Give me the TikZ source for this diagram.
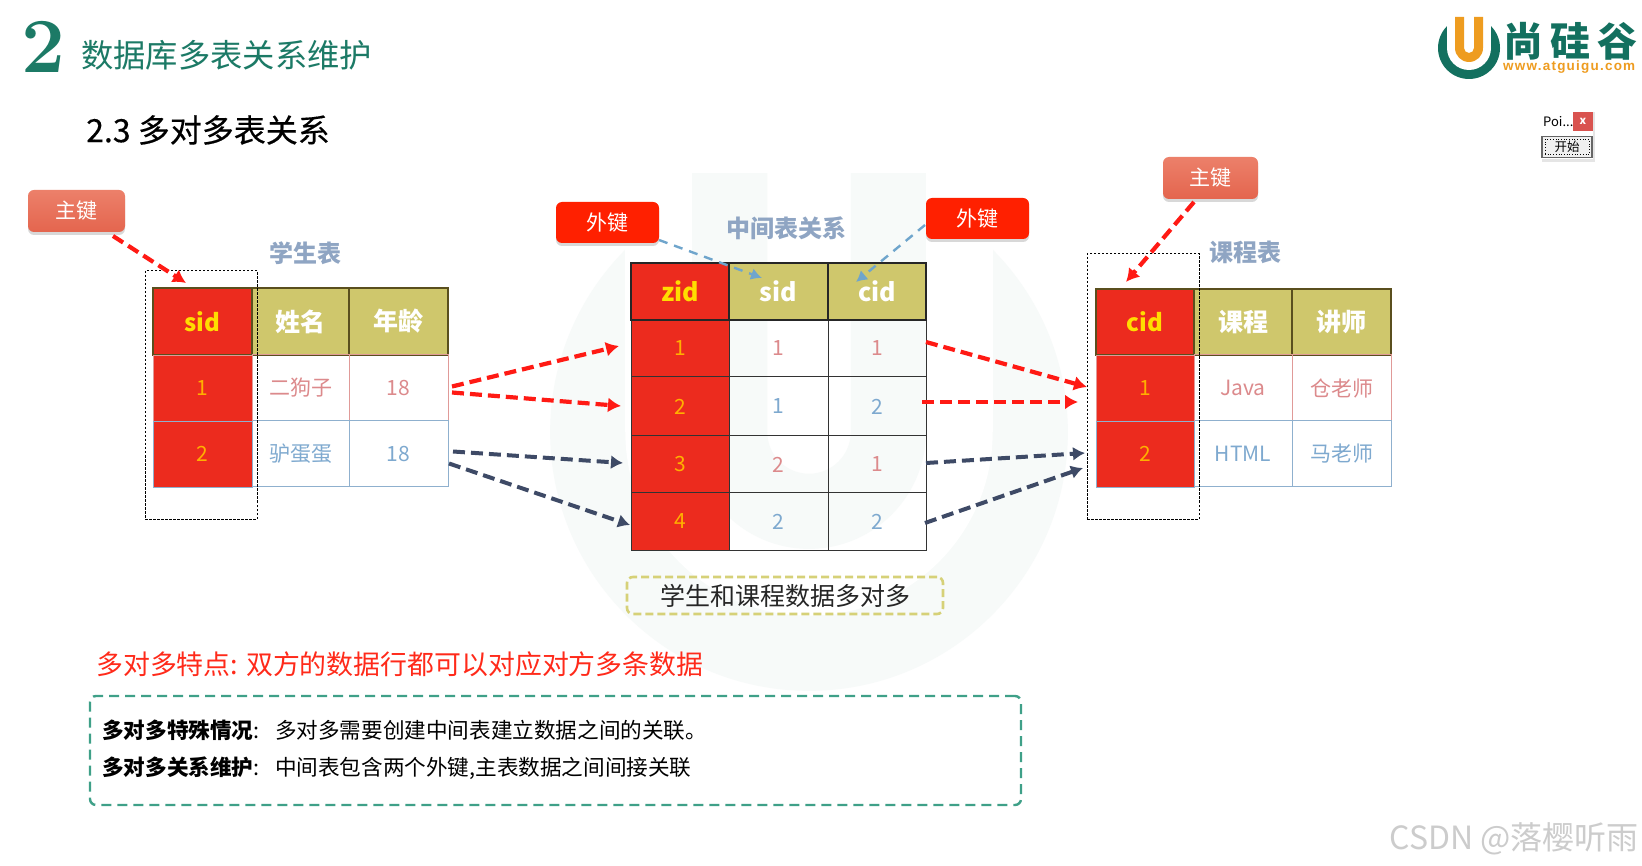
\documentclass[tikz,border=0pt]{standalone}
\usepackage{fontspec}
\usetikzlibrary{arrows.meta,shadows,shapes.misc}
\newfontfamily\cjk{Noto Sans CJK SC}
\newfontfamily\cjkm[FakeBold=0.35]{Noto Sans CJK SC}
\newfontfamily\logourlf[LetterSpace=9]{Liberation Sans}
\newcommand{\fsz}[1]{\fontsize{#1}{#1}\selectfont}
\definecolor{teal1}{HTML}{1C7A66}
\definecolor{logogreen}{HTML}{13705F}
\definecolor{logoorange}{HTML}{EE9C20}
\definecolor{wmA}{HTML}{F7FAF9}
\definecolor{hdr}{HTML}{CFC76C}
\definecolor{cellred}{HTML}{EC2B1E}
\definecolor{hline}{HTML}{5A4F1E}
\definecolor{numy}{HTML}{FFB000}
\definecolor{keyy}{HTML}{FFDD00}
\definecolor{dred}{HTML}{DC8A8C}
\definecolor{dblue}{HTML}{7EA9CF}
\definecolor{lred}{HTML}{E09A98}
\definecolor{lblue}{HTML}{8FB0CE}
\definecolor{tlabel}{HTML}{8FA5C3}
\definecolor{arred}{HTML}{FF1A14}
\definecolor{ardark}{HTML}{3E4A66}
\definecolor{arblue}{HTML}{6FA5CC}
\definecolor{pktop}{HTML}{EC806A}
\definecolor{pkbot}{HTML}{E4654E}
\definecolor{fkcol}{HTML}{FF2000}
\definecolor{closecol}{HTML}{D9534F}
\definecolor{notecol}{HTML}{D6D178}
\definecolor{featcol}{HTML}{FF2A1A}
\definecolor{infocol}{HTML}{3FA088}
\newcommand{\logoshape}[2]{%
  \fill[#1] (0,0) circle[radius=31];
  \fill[white] (-22,-40) rectangle (22,0);
  \fill[white] (0,0) circle[radius=22];
  \fill[#2] (-14,-31) -- (-14,0) arc[start angle=180,end angle=0,radius=14] -- (14,-31) -- (5,-31) -- (5,0) arc[start angle=0,end angle=180,radius=5] -- (-5,-31) -- cycle;
}
% cell: name, x0, y0, x1, y1, style, text
\newcommand{\tcell}[7]{%
  \node[cellbase,#6,minimum width={(#4-#2)*1pt},minimum height={(#5-#3)*1pt}] (#1) at ({(#2+#4)/2},{(#3+#5)/2}) {#7};
}
\tikzset{
  x=1pt,y=-1pt,
  cellbase/.style={rectangle,inner sep=0pt,outer sep=0pt,anchor=center,font=\cjk\fsz{21}},
  keyhead/.style={fill=cellred,draw=hline,line width=1.6pt,text=keyy,font=\cjk\bfseries\fsz{24}},
  colhead/.style={fill=hdr,draw=hline,line width=1.6pt,text=white,font=\cjk\bfseries\fsz{25}},
  keycellR/.style={fill=cellred,draw=lred,line width=.8pt,text=numy},
  keycellB/.style={fill=cellred,draw=lblue,line width=.8pt,text=numy},
  rowR/.style={draw=lred,line width=1pt,text=dred},
  rowB/.style={draw=lblue,line width=1pt,text=dblue},
  mhead/.style={line width=2.4pt,draw=black!85,font=\cjk\bfseries\fsz{25}},
  mkey/.style={fill=cellred,draw=black!80,line width=1pt,text=numy},
  mred/.style={draw=black!80,line width=1pt,text=dred},
  mblue/.style={draw=black!80,line width=1pt,text=dblue},
  pkbtn/.style={rectangle,rounded corners=6pt,inner sep=0pt,top color=pktop,bottom color=pkbot,drop shadow={shadow xshift=0pt,shadow yshift=-3pt,opacity=.3},text=white,font=\cjk\fsz{21}},
  fkbtn/.style={rectangle,rounded corners=6pt,inner sep=0pt,fill=fkcol,drop shadow={shadow xshift=0pt,shadow yshift=-3pt,opacity=.3},text=white,font=\cjk\fsz{21}},
  tlabelnode/.style={text=tlabel,font=\cjk\bfseries\fsz{24},inner sep=0pt},
  blackdash/.style={draw=black,line width=1pt,dash pattern=on 2.5pt off 1.5pt,inner sep=0pt,rectangle},
  redarrow/.style={draw=arred,line width=4.2pt,dash pattern=on 12pt off 6pt,-{Latex[length=13pt,width=15pt]}},
  darkarrow/.style={draw=ardark,line width=4pt,dash pattern=on 12pt off 6pt,-{Latex[length=12pt,width=14pt]}},
  bluearrow/.style={draw=arblue,line width=2.4pt,dash pattern=on 9pt off 7pt,-{Latex[length=11pt,width=12pt]}},
}
\begin{document}
\begin{tikzpicture}
\useasboundingbox (0,0) rectangle (1642,866);
\fill[white] (0,0) rectangle (1642,866);
% watermark
\begin{scope}[shift={(809,432)},scale=8.35]
\logoshape{wmA}{wmA}
\end{scope}
% headings
\node[inner sep=0pt,text=teal1,anchor=center,font=\bfseries\fsz{78}] (num) at (43,47) {2};
\node[inner sep=0pt,anchor=west,text=teal1,font=\cjk\fsz{32.3}] (title) at (81,55) {数据库多表关系维护};
\node[inner sep=0pt,anchor=west,text=black,font=\cjkm\fsz{32}] (sub) at (86,130) {2.3 多对多表关系};
% logo
\begin{scope}[shift={(1469,48)}]
\logoshape{logogreen}{logoorange}
\end{scope}
\node[inner sep=0pt,anchor=west,text=logogreen,font=\cjk\bfseries\fsz{40}] (logotext) at (1503,41) {尚\hspace{7pt}硅\hspace{7pt}谷};
\node[inner sep=0pt,anchor=west,text=logoorange,font=\logourlf\bfseries\fsz{13.5}] (logourl) at (1503,67.5) {www.atguigu.com};
% Poi window
\node[rectangle,fill=white,minimum width=53pt,minimum height=50pt,inner sep=0pt,drop shadow={shadow xshift=2pt,shadow yshift=-3pt,opacity=.2}] (poi) at (1566.5,134) {};
\node[inner sep=0pt,anchor=west,font=\cjk\fsz{13},text=black] (poitxt) at (1543,122) {Poi...};
\node[fill=closecol,minimum width=20pt,minimum height=19pt,inner sep=0pt,text=white,font=\cjk\bfseries\fsz{11}] (poix) at (1583,121.5) {x};
\node[draw=black!60,line width=1.5pt,fill=black!6,minimum width=50pt,minimum height=21pt,inner sep=0pt,font=\cjk\fsz{12.5}] (poibtn) at (1567,147) {开始};
\node[draw=black,line width=.7pt,dotted,minimum width=44pt,minimum height=15pt,inner sep=0pt] (poifocus) at (1567,147) {};
% left table
\tcell{s00}{153}{288}{252}{355}{keyhead}{sid}
\tcell{s01}{252}{288}{349}{355}{colhead}{姓名}
\tcell{s02}{349}{288}{448}{355}{colhead}{年龄}
\tcell{s11}{252}{355}{349}{421}{rowR}{二狗子}
\tcell{s12}{349}{355}{448}{421}{rowR}{18}
\tcell{s21}{252}{421}{349}{487}{rowB}{驴蛋蛋}
\tcell{s22}{349}{421}{448}{487}{rowB}{18}
\tcell{s10}{153}{355}{252}{421}{keycellR}{1}
\tcell{s20}{153}{421}{252}{487}{keycellB}{2}
\node[blackdash,minimum width=112pt,minimum height=248pt] (sbox) at (201,395) {};
\node[tlabelnode] (stitle) at (305.5,253) {学生表};
% middle table
\tcell{m10}{631}{320}{729}{377}{mkey}{1}
\tcell{m11}{729}{320}{828}{377}{mred}{1}
\tcell{m12}{828}{320}{926}{377}{mred}{1}
\tcell{m20}{631}{377}{729}{436}{mkey}{2}
\tcell{m21}{729}{377}{828}{436}{mblue}{1}
\tcell{m22}{828}{377}{926}{436}{mblue}{2}
\tcell{m30}{631}{436}{729}{493}{mkey}{3}
\tcell{m31}{729}{436}{828}{493}{mred}{2}
\tcell{m32}{828}{436}{926}{493}{mred}{1}
\tcell{m40}{631}{493}{729}{550}{mkey}{4}
\tcell{m41}{729}{493}{828}{550}{mblue}{2}
\tcell{m42}{828}{493}{926}{550}{mblue}{2}
\tcell{m00}{631}{263}{729}{320}{mhead,fill=cellred,text=keyy}{zid}
\tcell{m01}{729}{263}{828}{320}{mhead,fill=hdr,text=white}{sid}
\tcell{m02}{828}{263}{926}{320}{mhead,fill=hdr,text=white}{cid}
\node[tlabelnode] (mtitle) at (786,228) {中间表关系};
% right table
\tcell{r00}{1096}{289}{1194}{355}{keyhead}{cid}
\tcell{r01}{1194}{289}{1292}{355}{colhead}{课程}
\tcell{r02}{1292}{289}{1391}{355}{colhead}{讲师}
\tcell{r11}{1194}{355}{1292}{421}{rowR}{Java}
\tcell{r12}{1292}{355}{1391}{421}{rowR}{仓老师}
\tcell{r21}{1194}{421}{1292}{487}{rowB}{HTML}
\tcell{r22}{1292}{421}{1391}{487}{rowB}{马老师}
\tcell{r10}{1096}{355}{1194}{421}{keycellR}{1}
\tcell{r20}{1096}{421}{1194}{487}{keycellB}{2}
\node[blackdash,minimum width=112pt,minimum height=265pt] (rbox) at (1143,386.5) {};
\node[tlabelnode] (rtitle) at (1245,252) {课程表};
% key buttons
\node[pkbtn,minimum width=97pt,minimum height=42pt] (pk1) at (76.5,211) {主键};
\node[pkbtn,minimum width=95pt,minimum height=42pt] (pk2) at (1210.5,178) {主键};
\node[fkbtn,minimum width=103pt,minimum height=41pt] (fk1) at (607.5,222.5) {外键};
\node[fkbtn,minimum width=103pt,minimum height=41pt] (fk2) at (977.5,218.5) {外键};
% arrows
\draw[redarrow] ([shift={(36.5,25)}]pk1.center) -- ([shift={(-16.5,-38.5)}]s00.center);
\draw[redarrow] ([shift={(-16.5,24)}]pk2.center) -- ([shift={(-19,-40)}]r00.center);
\draw[bluearrow] ([shift={(51.5,17.5)}]fk1.center) -- ([shift={(-16.5,-13.5)}]m01.center);
\draw[bluearrow] ([shift={(-52.5,6.5)}]fk2.center) -- ([shift={(-21,-9.5)}]m02.center);
\draw[redarrow] ([shift={(53.5,-1.5)}]s12.center) -- ([shift={(-61,-2.5)}]m10.center);
\draw[redarrow] ([shift={(53.5,4.5)}]s12.center) -- ([shift={(-59,-0.5)}]m20.center);
\draw[darkarrow] ([shift={(54.5,-2.5)}]s22.center) -- ([shift={(-57,-1.5)}]m30.center);
\draw[darkarrow] ([shift={(50.5,9.5)}]s22.center) -- ([shift={(-50,3.5)}]m40.center);
\draw[redarrow] ([shift={(49,-6.5)}]m12.center) -- ([shift={(-58,-1)}]r10.center);
\draw[redarrow] ([shift={(45,-4.5)}]m22.center) -- ([shift={(-67,14)}]r10.center);
\draw[darkarrow] ([shift={(49,-1.5)}]m32.center) -- ([shift={(-60,-1)}]r20.center);
\draw[darkarrow] ([shift={(48,1.5)}]m42.center) -- ([shift={(-62,14)}]r20.center);
% note
\node[rectangle,rounded corners=6pt,draw=notecol,line width=2.6pt,dash pattern=on 8pt off 4pt,minimum width=316pt,minimum height=37pt,inner sep=0pt,text=black!85,font=\cjk\fsz{25}] (note) at (785,595.5) {学生和课程数据多对多};
% red heading
\node[inner sep=0pt,anchor=west,text=featcol,font=\cjk\fsz{26.9}] (feat) at (96,664) {多对多特点: 双方的数据行都可以对应对方多条数据};
% info box
\node[rectangle,rounded corners=6pt,draw=infocol,line width=2.4pt,dash pattern=on 10pt off 6pt,minimum width=931pt,minimum height=109pt,inner sep=0pt] (info) at (555.5,750.5) {};
\node[inner sep=0pt,anchor=west,text=black,font=\cjk\fsz{21.6}] (l1) at (102,730) {\makebox[173pt][l]{{\bfseries 多对多特殊情况}:}多对多需要创建中间表建立数据之间的关联。};
\node[inner sep=0pt,anchor=west,text=black,font=\cjk\fsz{21.6}] (l2) at (102,768) {\makebox[173pt][l]{{\bfseries 多对多关系维护}:}中间表包含两个外键,主表数据之间间接关联};
% csdn
\node[inner sep=0pt,anchor=east,text=black!20,font=\cjk\fsz{32}] (csdn) at (1639,839) {CSDN @落樱听雨};
\end{tikzpicture}
\end{document}
